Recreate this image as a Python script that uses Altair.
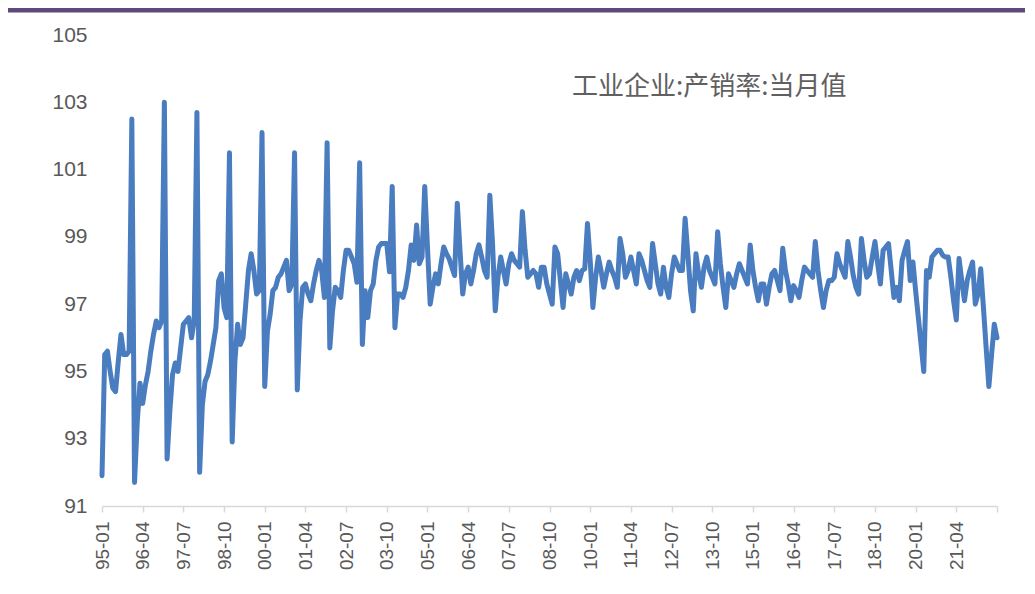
import altair as alt
import pandas as pd

# Monthly industrial enterprise production-sales ratio (%), 1995-01 .. 2022-07
y1995 = [91.9, 95.5, 95.6, 95.0, 94.5, 94.4, 95.3, 96.1, 95.5, 95.5, 95.6, 102.5]
y1996 = [91.7, 93.5, 94.65, 94.05, 94.6, 95.0, 95.6, 96.1, 96.5, 96.3, 96.5, 103.0]
y1997 = [92.4, 93.8, 94.9, 95.25, 95.0, 95.7, 96.4, 96.5, 96.6, 96.0, 96.5, 102.7]
y1998 = [92.0, 94.0, 94.7, 94.9, 95.3, 95.8, 96.3, 97.7, 97.9, 96.9, 96.6, 101.5]
y1999 = [92.9, 95.3, 96.4, 95.8, 96.0, 97.0, 98.0, 98.5, 98.0, 97.3, 97.4, 102.1]
y2000 = [94.55, 96.2, 96.7, 97.4, 97.5, 97.8, 97.9, 98.1, 98.3, 97.4, 97.6, 101.5]
y2001 = [94.45, 96.5, 97.5, 97.6, 97.3, 97.1, 97.6, 98.0, 98.3, 98.0, 97.2, 101.8]
y2002 = [95.7, 96.8, 97.5, 97.4, 97.2, 98.0, 98.6, 98.6, 98.4, 98.2, 97.65, 101.2]
y2003 = [95.8, 97.4, 96.6, 97.4, 97.6, 98.3, 98.7, 98.8, 98.8, 98.8, 97.96, 100.5]
y2004 = [96.3, 97.3, 97.3, 97.2, 97.5, 98.0, 98.76, 98.3, 99.35, 98.2, 98.4, 100.5]
y2005 = [98.7, 97.0, 97.5, 97.9, 97.6, 98.2, 98.7, 98.5, 98.35, 98.1, 97.85, 100.0]
y2006 = [98.6, 97.3, 97.9, 98.1, 97.6, 98.0, 98.5, 98.76, 98.4, 98.0, 97.8, 100.24]
y2007 = [98.8, 96.8, 97.8, 98.4, 98.0, 97.6, 98.2, 98.5, 98.3, 98.2, 98.1, 99.75]
y2008 = [98.6, 97.8, 97.9, 98.0, 97.9, 97.5, 98.1, 98.1, 97.6, 97.3, 97.0, 98.7]
y2009 = [98.5, 97.7, 96.9, 97.9, 97.6, 97.3, 97.8, 98.0, 97.7, 98.0, 98.05, 99.4]
y2010 = [98.3, 96.9, 97.8, 98.4, 98.0, 97.5, 97.9, 98.25, 98.0, 97.8, 97.5, 98.95]
y2011 = [98.5, 97.8, 98.0, 98.4, 98.0, 97.6, 98.5, 98.3, 98.0, 97.7, 97.5, 98.8]
y2012 = [98.2, 97.6, 97.3, 98.1, 97.5, 97.2, 97.9, 98.4, 98.2, 98.0, 98.0, 99.55]
y2013 = [98.5, 97.4, 96.8, 98.5, 97.9, 97.5, 98.1, 98.4, 98.0, 97.8, 97.6, 99.15]
y2014 = [98.2, 97.5, 96.9, 97.9, 97.7, 97.5, 97.9, 98.2, 98.0, 97.8, 97.6, 98.76]
y2015 = [98.0, 97.5, 97.1, 97.6, 97.6, 97.0, 97.5, 97.9, 98.0, 97.7, 97.4, 98.66]
y2016 = [98.0, 97.6, 97.1, 97.55, 97.4, 97.2, 97.7, 98.1, 98.0, 97.9, 97.8, 98.86]
y2017 = [98.0, 97.4, 96.9, 97.4, 97.7, 97.7, 97.8, 98.5, 98.2, 98.0, 97.8, 98.86]
y2018 = [98.4, 97.85, 97.5, 97.3, 98.95, 98.3, 97.8, 97.9, 98.4, 98.86, 98.2, 97.6]
y2019 = [98.6, 98.7, 98.8, 98.0, 97.2, 97.5, 97.1, 98.3, 98.6, 98.86, 97.7, 98.25]
y2020 = [97.4, 96.6, 95.8, 95.0, 98.0, 97.8, 98.4, 98.5, 98.6, 98.6, 98.45, 98.4]
y2021 = [98.4, 97.8, 97.1, 96.53, 98.36, 97.7, 97.1, 97.7, 98.0, 98.25, 97.0, 97.3]
y2022 = [98.05, 96.9, 95.7, 94.55, 95.5, 96.4, 96.0]

tick_labels = ["95-01", "96-04", "97-07", "98-10", "00-01", "01-04", "02-07",
               "03-10", "05-01", "06-04", "07-07", "08-10", "10-01", "11-04",
               "12-07", "13-10", "15-01", "16-04", "17-07", "18-10", "20-01",
               "21-04"]

title_text = "工业企业:产销率:当月值"

values = (y1995 + y1996 + y1997 + y1998 + y1999 + y2000 + y2001 + y2002 +
          y2003 + y2004 + y2005 + y2006 + y2007 + y2008 + y2009 + y2010 +
          y2011 + y2012 + y2013 + y2014 + y2015 + y2016 + y2017 + y2018 +
          y2019 + y2020 + y2021 + y2022)
months = pd.date_range("1995-01-01", periods=len(values), freq="MS").strftime("%y-%m").tolist()
df = pd.DataFrame({"month": months, "value": values})

last = months[-1]
W, H = 895, 471
PAD = {"left": 94, "top": 27, "right": 28, "bottom": 75}

line = alt.Chart(df).mark_line(
    color="#4A7CC0", strokeWidth=5, strokeJoin="round", strokeCap="round"
).encode(
    x=alt.X("month:O", sort=months,
            scale=alt.Scale(type="point", padding=0),
            axis=alt.Axis(values=tick_labels + [last],
                          labelExpr=f"datum.value == '{last}' ? '' : datum.value",
                          labelAngle=-90, labelFontSize=19, labelFont="Liberation Sans",
                          labelColor="#595959", labelPadding=9, labelOverlap=False,
                          domainColor="#D9D9D9", domainWidth=1.5,
                          tickColor="#D9D9D9", tickWidth=1.5, tickSize=6,
                          title=None)),
    y=alt.Y("value:Q",
            scale=alt.Scale(domain=[91, 105], nice=False, zero=False),
            axis=alt.Axis(values=[91, 93, 95, 97, 99, 101, 103, 105],
                          grid=False, domain=False, ticks=False,
                          labelFontSize=21, labelFont="Liberation Sans",
                          labelColor="#595959", labelPadding=15, title=None)),
)

band = alt.Chart(pd.DataFrame({"k": [0]})).mark_rule(
    color="#5E4B7C", strokeWidth=5
).encode(
    x=alt.value(-PAD["left"]), x2=alt.value(W + PAD["right"]), y=alt.value(-25)
)

label = alt.Chart(pd.DataFrame({"t": [title_text]})).mark_text(
    align="left", baseline="middle", font="Noto Sans CJK SC",
    fontSize=26, color="#606060"
).encode(
    text="t:N", x=alt.value(470), y=alt.value(52)
)

chart = alt.layer(line, band, label).properties(
    width=W, height=H, padding=PAD,
    autosize=alt.AutoSizeParams(type="none"),
    background="white",
).configure_view(stroke=None)

chart.save("out.html", embed_options={"renderer": "svg", "actions": False})
